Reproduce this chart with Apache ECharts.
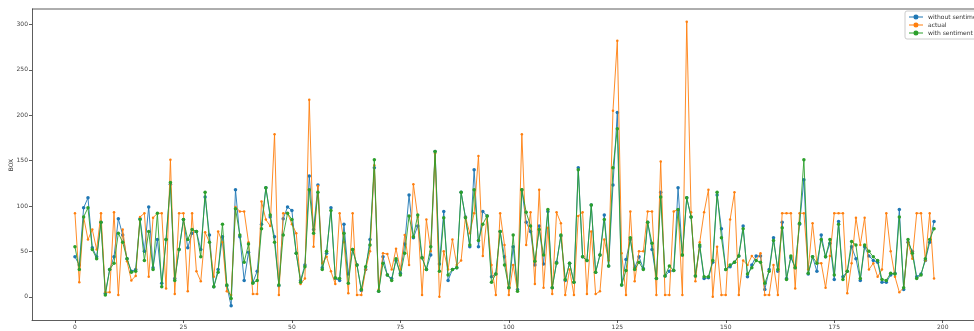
<!DOCTYPE html>
<html><head><meta charset="utf-8">
<script src="https://cdn.jsdelivr.net/npm/echarts@6/dist/echarts.min.js"></script>
<style>html,body{margin:0;padding:0;background:#fff}#c{width:974px;height:331px}</style>
</head><body><div id="c"></div>
<script>
const seriesNames = ["without sentiment", "actual", "with sentiment"];
const yAxisTitle = "BOX";
const xTicks = [0, 25, 50, 75, 100, 125, 150, 175, 200];
const yTicks = [0, 50, 100, 150, 200, 250, 300];
const withoutSentiment = [44,35,98,109,54,44,82,4,30,44,86,68,42,28,30,86,50,99,32,63,15,63,124,20,52,85,54,70,72,52,110,68,11,30,66,12,-10,118,66,18,49,16,28,80,120,88,66,12,86,99,95,48,18,35,133,74,123,32,48,98,20,18,80,25,52,35,7,30,63,142,6,44,24,20,40,26,58,112,65,78,43,30,46,160,36,94,18,30,32,115,88,55,140,55,94,89,22,25,72,44,10,55,8,118,82,72,35,78,36,94,10,38,67,18,37,16,142,44,40,101,27,46,90,34,123,203,13,41,63,32,44,31,82,52,20,115,23,28,29,120,46,109,88,23,55,20,21,38,112,75,30,33,38,45,78,22,35,45,45,8,30,65,28,82,20,43,32,80,129,25,44,28,68,44,59,19,83,22,28,55,42,18,55,45,40,38,16,16,24,26,96,8,60,50,22,25,40,60,83];
const actual = [92,16,88,63,74,52,92,5,5,93,2,74,39,18,23,88,92,22,87,92,92,9,151,3,92,92,6,92,28,17,71,60,22,72,60,6,2,99,94,94,60,3,3,105,85,78,179,2,92,92,80,70,14,20,217,55,122,37,44,28,14,92,60,4,92,2,2,30,50,145,8,48,47,30,53,30,68,35,124,88,2,85,50,158,0,50,30,63,35,40,88,70,92,155,45,89,35,2,92,57,2,35,6,179,57,93,14,118,10,76,3,93,81,2,30,2,89,93,3,72,3,6,63,40,205,282,48,2,94,17,50,50,94,94,2,149,2,2,94,96,2,303,93,17,60,93,118,0,55,2,2,85,115,2,40,35,45,40,48,2,2,35,2,92,92,92,9,92,92,30,81,37,37,10,45,92,92,92,4,37,87,57,87,30,37,22,30,92,50,22,5,10,60,42,92,92,40,92,20];
const withSentiment = [55,30,88,98,52,42,82,2,30,37,70,60,42,27,28,85,40,72,30,92,11,63,126,18,52,85,63,74,72,44,115,60,11,27,80,13,-2,97,68,38,58,15,18,75,120,90,60,13,68,92,85,48,16,33,118,70,115,30,50,95,21,20,70,15,52,35,8,33,57,151,6,37,24,18,42,24,48,89,66,90,43,30,55,160,28,87,24,30,32,115,87,57,118,62,80,89,16,25,72,35,10,68,6,118,93,78,39,74,46,96,10,37,68,19,37,16,140,44,40,101,27,46,85,34,142,185,13,29,65,30,38,30,82,59,20,110,23,34,29,96,46,109,88,23,57,22,22,40,115,65,30,35,38,45,75,25,32,40,38,15,28,62,30,76,19,45,32,81,151,26,44,37,63,44,63,24,80,19,28,61,57,20,57,50,44,40,19,18,26,25,88,10,63,48,20,24,42,63,75];

const colors = ['#1f77b4', '#ff7f0e', '#2ca02c'];
const dataSets = [withoutSentiment, actual, withSentiment];
const sizes = [3.5, 2.5, 3.5];
const legendIcon = 'path://M0,9 L28,9 L28,11 L0,11 Z M14,5 A5,5 0 1 1 13.99,5 Z';

const chart = echarts.init(document.getElementById('c'), null, {renderer: 'canvas'});
chart.setOption({
  animation: false,
  backgroundColor: '#fff',
  grid: {left: 32, right: -3, top: 9, bottom: 11, show: false, containLabel: false, outerBoundsMode: 'none'},
  legend: {
    orient: 'vertical', left: 905, top: 11,
    itemWidth: 14, itemHeight: 6, itemGap: 2,
    textStyle: {fontSize: 6, color: '#333', fontFamily: 'DejaVu Sans'},
    borderColor: '#ccc', borderWidth: 1, borderRadius: 2,
    padding: [3, 30, 3, 4], backgroundColor: '#fff',
    data: seriesNames.map(n => ({name: n, icon: legendIcon}))
  },
  xAxis: {
    type: 'value', min: -9.9, max: 207.9,
    axisLine: {show: true, onZero: false, lineStyle: {color: '#333', width: 0.8}},
    axisTick: {show: true, length: 3, lineStyle: {color: '#333', width: 0.8},
      customValues: xTicks},
    axisLabel: {fontSize: 6, color: '#444', margin: 4, fontFamily: 'DejaVu Sans',
      customValues: xTicks, formatter: v => String(v)},
    splitLine: {show: false}
  },
  yAxis: {
    type: 'value', min: -25.6, max: 317,
    axisLine: {show: true, onZero: false, lineStyle: {color: '#333', width: 0.8}},
    axisTick: {show: true, length: 3, lineStyle: {color: '#333', width: 0.8},
      customValues: yTicks},
    axisLabel: {fontSize: 6, color: '#444', margin: 4, fontFamily: 'DejaVu Sans',
      customValues: yTicks, formatter: v => String(v)},
    splitLine: {show: false}
  },
  series: dataSets.map((arr, k) => ({
    name: seriesNames[k], type: 'line',
    data: arr.map((v, i) => [i, v]),
    symbol: 'circle', symbolSize: sizes[k], showSymbol: true,
    lineStyle: {width: 0.9, color: colors[k]},
    itemStyle: {color: colors[k]},
    z: k === 2 ? 4 : (k === 1 ? 3 : 2)
  })),
  graphic: [
    {type: 'line', shape: {x1: 32, y1: 9, x2: 974, y2: 9}, style: {stroke: '#333', lineWidth: 0.8}, silent: true, z: 10},
    {type: 'text', x: 11, y: 165, rotation: Math.PI / 2,
      style: {text: yAxisTitle, fontSize: 6, fill: '#333', fontFamily: 'DejaVu Sans', align: 'center', verticalAlign: 'middle'}, silent: true}
  ]
});
</script>
</body></html>
